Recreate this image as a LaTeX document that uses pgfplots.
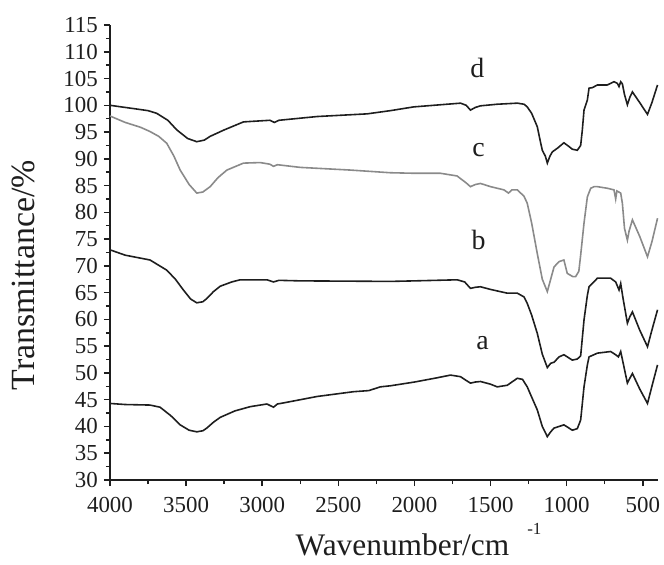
\documentclass[border=0pt]{standalone}
\usepackage{fontspec}
\setmainfont{Liberation Serif}
\usepackage{pgfplots}
\pgfplotsset{compat=1.18}

\definecolor{inkdark}{HTML}{1E1E1E}
\definecolor{inkgray}{HTML}{8A8A8A}

\begin{document}
\begin{tikzpicture}
% page frame: 664 x 565 bp around the plot area
\useasboundingbox (-110bp,-85bp) rectangle (554bp,480bp);
\begin{axis}[
  scale only axis,
  width=548bp, height=455bp,
  at={(0,0)}, anchor=south west,
  x dir=reverse,
  xmin=400, xmax=4000,
  ymin=30, ymax=115,
  axis x line=bottom, axis y line=left,
  axis line style={-, line width=1.7pt, inkdark},
  tick align=outside,
  xtick={500,1000,...,4000},
  minor xtick={750,1250,...,3750},
  ytick={30,35,...,115},
  minor ytick={32.5,37.5,...,112.5},
  major tick length=6bp, minor tick length=4bp,
  every tick/.style={line width=1.5pt, inkdark},
  /pgf/number format/assume math mode=true,
  /pgf/number format/1000 sep={},
  tick label style={font=\fontsize{23}{23}\selectfont, inkdark, inner sep=1bp},
  xticklabel style={yshift=-10bp},
  yticklabel style={xshift=-5bp},
  xlabel={Wavenumber/cm\hspace{18bp}\raisebox{21bp}{\fontsize{17}{17}\selectfont -1}},
  ylabel={Transmittance/\%},
  xlabel style={font=\fontsize{31.5}{31.5}\selectfont, inkdark,
                at={(axis description cs:0.563,-0.167)}, anchor=base},
  ylabel style={font=\fontsize{34}{34}\selectfont, inkdark,
                at={(axis description cs:-0.157,0.45)}, anchor=center, rotate=0},
  clip=false,
]

% spectrum a
\addplot[inkdark, line width=1.6pt] coordinates {
(4000,44.3) (3900,44.1) (3737,44.0) (3671,43.6) (3600,42.0) (3539,40.3)
(3480,39.3) (3430,39.0) (3390,39.2) (3364,39.7) (3320,40.8) (3276,41.7)
(3180,42.9) (3079,43.7) (2969,44.2) (2926,43.6) (2900,44.2) (2860,44.4)
(2640,45.6) (2399,46.5) (2300,46.7) (2224,47.4) (2158,47.6) (2000,48.3)
(1850,49.1) (1763,49.6) (1697,49.3) (1660,48.6) (1632,48.1) (1600,48.3)
(1566,48.4) (1500,47.9) (1456,47.4) (1390,47.7) (1350,48.5) (1324,49.0)
(1290,48.8) (1259,47.4) (1230,45.5) (1193,43.1) (1160,40.0) (1127,38.1)
(1105,39.0) (1083,39.7) (1050,40.0) (1018,40.3) (990,39.8) (963,39.3)
(930,39.6) (908,41.2) (886,47.4) (864,51.5) (853,53.0) (798,53.7)
(711,54.0) (678,53.4) (660,53.0) (645,54.0) (630,52.0) (601,48.1)
(585,49.0) (568,49.9) (520,47.0) (469,44.3) (440,47.5) (403,51.5)
};

% spectrum b
\addplot[inkdark, line width=1.6pt] coordinates {
(4000,73.0) (3900,72.0) (3737,71.1) (3627,69.2) (3570,67.5) (3518,65.5)
(3470,63.8) (3430,63.1) (3390,63.3) (3364,63.9) (3320,65.2) (3276,66.2)
(3200,67.0) (3145,67.4) (2969,67.4) (2926,67.0) (2890,67.3) (2750,67.2)
(2158,67.1) (2000,67.2) (1719,67.4) (1670,67.0) (1632,65.8) (1600,66.0)
(1566,66.1) (1500,65.6) (1390,64.9) (1324,64.9) (1280,64.2) (1259,63.0)
(1230,60.8) (1193,57.4) (1160,53.5) (1127,51.0) (1105,51.8) (1083,52.0)
(1050,53.0) (1018,53.4) (963,52.4) (930,52.6) (908,53.2) (886,59.9)
(864,64.5) (853,66.1) (798,67.7) (711,67.7) (678,67.0) (656,65.5)
(645,66.7) (630,64.0) (601,59.3) (585,60.5) (568,61.4) (520,58.0)
(469,54.9) (440,58.0) (403,61.8)
};

% spectrum c
\addplot[inkgray, line width=1.6pt] coordinates {
(4000,98.0) (3900,96.8) (3800,95.9) (3737,95.1) (3680,94.2) (3627,92.9)
(3580,90.5) (3539,87.9) (3480,85.2) (3430,83.6) (3390,83.8) (3342,84.8)
(3290,86.5) (3232,87.9) (3123,89.2) (3013,89.3) (2950,89.0) (2926,88.6)
(2900,88.9) (2750,88.4) (2421,87.9) (2158,87.4) (2000,87.3) (1829,87.3)
(1720,86.8) (1660,85.5) (1632,84.8) (1600,85.2) (1566,85.4) (1500,84.8)
(1412,84.2) (1382,83.6) (1360,84.2) (1324,84.2) (1280,83.0) (1259,81.7)
(1230,78.0) (1193,72.3) (1160,67.5) (1127,65.2) (1105,67.5) (1083,69.8)
(1050,70.8) (1018,71.1) (996,68.6) (960,68.0) (941,68.0) (920,69.0)
(908,72.0) (886,78.0) (864,82.9) (842,84.5) (820,84.8) (798,84.8)
(733,84.5) (689,84.2) (678,82.5) (670,84.0) (645,83.6) (634,81.7)
(620,77.0) (601,74.8) (590,76.5) (568,78.6) (520,75.5) (469,71.7)
(440,74.5) (403,78.9)
};

% spectrum d
\addplot[inkdark, line width=1.6pt] coordinates {
(4000,100.0) (3900,99.6) (3849,99.4) (3750,99.0) (3693,98.5) (3620,97.2)
(3561,95.4) (3490,93.8) (3430,93.2) (3380,93.5) (3342,94.2) (3250,95.4)
(3123,96.9) (2950,97.2) (2920,96.8) (2890,97.2) (2640,97.9) (2311,98.4)
(2158,99.0) (2005,99.7) (1829,100.1) (1697,100.4) (1660,100.0) (1632,99.1)
(1600,99.6) (1566,99.9) (1456,100.2) (1324,100.4) (1280,100.2) (1259,99.7)
(1230,98.5) (1193,96.0) (1171,93.0) (1160,91.6) (1140,90.5) (1127,89.2)
(1110,90.5) (1094,91.3) (1060,92.0) (1018,93.0) (985,92.3) (963,91.8)
(930,91.6) (908,92.5) (897,95.4) (886,99.1) (864,101.0) (853,103.2)
(831,103.3) (798,103.8) (733,103.8) (689,104.4) (667,104.1) (656,103.5)
(645,104.4) (634,104.0) (620,102.0) (601,100.1) (585,101.5) (568,102.5)
(520,100.5) (469,98.3) (440,100.5) (403,103.8)
};

% curve labels
\node[font=\fontsize{28}{28}\selectfont, text=inkdark] at (axis cs:1586,107.0) {d};
\node[font=\fontsize{28}{28}\selectfont, text=inkdark] at (axis cs:1579,91.6) {c};
\node[font=\fontsize{28}{28}\selectfont, text=inkdark] at (axis cs:1579,74.8) {b};
\node[font=\fontsize{28}{28}\selectfont, text=inkdark] at (axis cs:1553,55.6) {a};
\end{axis}
\end{tikzpicture}
\end{document}
